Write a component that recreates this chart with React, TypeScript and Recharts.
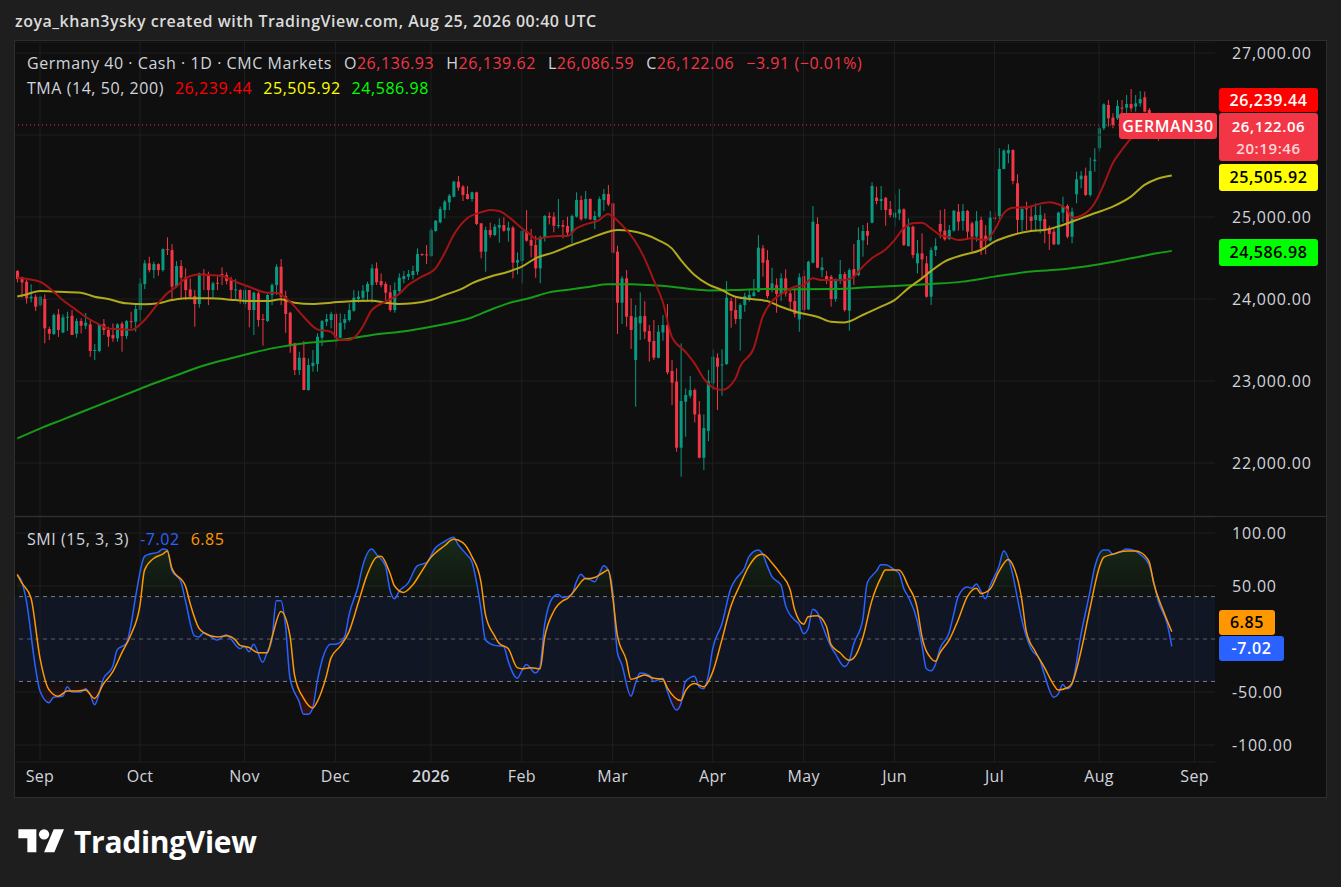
import React from 'react';
import {
  ComposedChart,
  Bar,
  Line,
  Area,
  XAxis,
  YAxis,
  CartesianGrid,
  ReferenceLine,
  ReferenceArea,
} from 'recharts';

// daily candles, Aug 25 2025 -> Aug 25 2026 (bar index = position)
const OPEN = [
  24341, 24264, 24211, 24008, 24028, 23926, 24000, 23634, 23573, 23813,
  23593, 23772, 23796, 23577, 23731, 23674, 23691, 23374, 23366, 23695,
  23622, 23561, 23520, 23699, 23548, 23731, 23723, 23866, 24182, 24435,
  24353, 24426, 24353, 24609, 24597, 24150, 24402, 24264, 24117, 24036,
  23939, 24313, 24300, 24109, 24199, 24304, 24292, 24231, 24109, 24109,
  23939, 24110, 23866, 24069, 23756, 23731, 24049, 24170, 24394, 24036,
  23833, 23459, 23134, 23284, 22890, 23183, 23207, 23528, 23723, 23744,
  23817, 23528, 23707, 23744, 23858, 23999, 24016, 24089, 24170, 24374,
  24219, 24183, 24081, 23866, 24097, 24243, 24272, 24292, 24333, 24548,
  24544, 24524, 24829, 24935, 25085, 25179, 25248, 25431, 25370, 25280,
  25219, 25301, 24923, 24577, 24841, 24780, 24870, 24902, 24833, 24870,
  24443, 24463, 24829, 24719, 24658, 24374, 24752, 25012, 25004, 24894,
  24902, 24890, 24809, 25004, 25207, 24984, 25219, 24963, 25004, 25207,
  25280, 25166, 24577, 23955, 24252, 23792, 23256, 23703, 23792, 23610,
  23488, 23284, 23592, 23683, 23122, 22992, 22187, 22748, 22821, 22890,
  22593, 22065, 22392, 22971, 23284, 23195, 23207, 23975, 23866, 23756,
  23927, 23988, 24036, 24089, 24618, 24475, 24130, 24170, 24061, 24252,
  24069, 23975, 23752, 24280, 23874, 24443, 24914, 24353, 24280, 24272,
  24000, 24231, 24304, 23858, 24365, 24292, 24715, 24829, 24931, 25236,
  25195, 25236, 25097, 24992, 25044, 25093, 24646, 24882, 24435, 24557,
  24435, 24028, 24597, 24915, 24834, 24732, 24834, 25065, 24951, 25073,
  24923, 24761, 24964, 24773, 24712, 24992, 25012, 25586, 25777, 25817,
  25411, 24964, 25106, 25004, 24964, 24952, 24976, 24862, 24822, 24667,
  25053, 25135, 24760, 25277, 25460, 25504, 25269, 25683, 25838, 26082,
  26366, 26212, 26204, 26333, 26333, 26378, 26346, 26386, 26460, 26305,
  26224, 26180, 26100, 26170, 26136.93,
];
const HIGH = [
  24353, 24272, 24231, 24178, 24056, 24040, 24056, 23662, 23825, 23878,
  23813, 23845, 23866, 23764, 23764, 23829, 23744, 23451, 23695, 23756,
  23662, 23703, 23703, 23723, 23744, 23845, 23926, 24252, 24475, 24516,
  24455, 24435, 24617, 24752, 24670, 24463, 24475, 24374, 24252, 24109,
  24321, 24365, 24333, 24211, 24280, 24386, 24325, 24272, 24243, 24121,
  24170, 24110, 24089, 24089, 23817, 24069, 24191, 24423, 24488, 24101,
  23845, 23467, 23357, 23488, 23276, 23378, 23581, 23744, 23817, 23845,
  23845, 23825, 23817, 23947, 24110, 24101, 24170, 24211, 24423, 24447,
  24313, 24211, 24170, 24203, 24313, 24341, 24353, 24406, 24618, 24557,
  24658, 24861, 24963, 25126, 25207, 25280, 25443, 25500, 25390, 25378,
  25309, 25309, 24923, 24882, 24931, 24914, 24984, 24996, 24943, 24890,
  24569, 24841, 25085, 24853, 24772, 24772, 25024, 25057, 25057, 25219,
  24963, 25004, 25032, 25301, 25260, 25317, 25227, 25073, 25248, 25341,
  25390, 25166, 24650, 24280, 24353, 24008, 23927, 24081, 23975, 23683,
  23744, 23683, 23805, 23939, 23256, 23154, 23459, 22910, 23061, 22910,
  22756, 22593, 23134, 23386, 23337, 23386, 24219, 24016, 24028, 23947,
  24077, 24122, 24243, 24780, 24658, 24597, 24382, 24252, 24313, 24362,
  24130, 24110, 24313, 24353, 24467, 25134, 24996, 24508, 24341, 24292,
  24252, 24475, 24333, 24374, 24670, 24874, 24902, 24931, 25423, 25370,
  25378, 25240, 25195, 25280, 25341, 25105, 24984, 24894, 24719, 24801,
  24524, 24630, 24740, 25086, 25098, 24903, 25086, 25159, 25159, 25086,
  24943, 25073, 25004, 24903, 25073, 25065, 25838, 25825, 25886, 25825,
  25521, 25126, 25187, 25126, 25167, 25139, 25045, 24895, 24862, 25065,
  25248, 25155, 25114, 25553, 25561, 25602, 25724, 25838, 26102, 26386,
  26427, 26264, 26427, 26427, 26488, 26561, 26488, 26537, 26529, 26330,
  26260, 26200, 26210, 26190, 26139.62,
];
const LOW = [
  24203, 24016, 23943, 23959, 23853, 23906, 23459, 23500, 23561, 23536,
  23581, 23609, 23561, 23528, 23581, 23634, 23296, 23256, 23350, 23561,
  23418, 23479, 23479, 23357, 23512, 23642, 23601, 23723, 24121, 24325,
  24252, 24284, 24333, 24536, 24000, 24138, 24000, 23987, 24008, 23662,
  23894, 24109, 23926, 24008, 24109, 24170, 24178, 24000, 23987, 23943,
  23894, 23654, 23561, 23662, 23431, 23723, 23926, 24049, 23926, 23589,
  23345, 23073, 23073, 22890, 22882, 23114, 23114, 23427, 23670, 23642,
  23406, 23520, 23630, 23723, 23845, 23955, 23987, 23967, 23955, 24170,
  24142, 23967, 23845, 23833, 24061, 24191, 24231, 24239, 24292, 24524,
  24426, 24516, 24821, 24923, 24983, 25085, 25240, 25321, 25195, 25215,
  25187, 24902, 24496, 24333, 24748, 24768, 24687, 24821, 24699, 24252,
  24301, 24191, 24699, 24508, 24260, 24191, 24699, 24910, 24813, 24862,
  24740, 24780, 24679, 24992, 24955, 24972, 24963, 24853, 24992, 25073,
  25134, 24557, 23573, 23695, 23662, 23390, 22687, 23500, 23512, 23236,
  23256, 23276, 23492, 23081, 22707, 22138, 21833, 22321, 22789, 22496,
  22057, 21914, 22266, 22890, 22646, 22821, 23195, 23650, 23695, 23370,
  23845, 23967, 24028, 24081, 24272, 24008, 24081, 23833, 23975, 24028,
  23874, 23776, 23601, 23833, 23866, 24435, 24374, 24264, 24183, 23906,
  23967, 24183, 23845, 23614, 24170, 24280, 24516, 24658, 24923, 25154,
  25085, 24894, 24996, 24882, 24963, 24646, 24638, 24496, 24313, 24252,
  24016, 23927, 24524, 24740, 24712, 24720, 24822, 24834, 24834, 24720,
  24578, 24700, 24537, 24545, 24700, 24943, 24943, 25582, 25655, 25399,
  24801, 24822, 24842, 24822, 24822, 24801, 24679, 24598, 24659, 24659,
  24935, 24740, 24679, 25167, 25350, 25257, 25249, 25553, 25797, 26061,
  26102, 26082, 26183, 26236, 26264, 26285, 26285, 26346, 26277, 26180,
  26150, 25930, 26060, 26090, 26086.59,
];
const CLOSE = [
  24243, 24203, 24008, 24028, 23906, 24028, 23642, 23577, 23805, 23622,
  23776, 23784, 23561, 23731, 23674, 23711, 23366, 23378, 23683, 23622,
  23540, 23520, 23691, 23548, 23731, 23719, 23878, 24191, 24435, 24353,
  24426, 24353, 24609, 24597, 24150, 24402, 24260, 24109, 24028, 23939,
  24313, 24300, 24109, 24191, 24187, 24292, 24219, 24109, 24117, 24000,
  24109, 23866, 24077, 23744, 23744, 24049, 24170, 24394, 24028, 23817,
  23431, 23134, 23284, 22890, 23195, 23223, 23540, 23731, 23756, 23817,
  23528, 23711, 23756, 23866, 24016, 24028, 24101, 24183, 24374, 24203,
  24170, 24077, 23866, 24110, 24260, 24280, 24304, 24341, 24548, 24536,
  24532, 24841, 24955, 25097, 25187, 25260, 25431, 25358, 25268, 25219,
  25301, 24915, 24577, 24841, 24780, 24882, 24902, 24833, 24870, 24443,
  24475, 24829, 24711, 24650, 24374, 24752, 25012, 24992, 24894, 24902,
  24882, 24809, 25012, 25207, 24972, 25219, 24972, 25012, 25219, 25280,
  25154, 24565, 23955, 24252, 23784, 23622, 23776, 23792, 23601, 23479,
  23284, 23601, 23683, 23106, 22980, 22187, 22756, 22829, 22890, 22593,
  22065, 22427, 23002, 23297, 23175, 23203, 24016, 23858, 23756, 23927,
  24036, 24049, 24081, 24626, 24443, 24036, 24191, 24061, 24252, 24069,
  23967, 23817, 24264, 23866, 24455, 24943, 24382, 24386, 24244, 24000,
  24231, 24304, 23866, 24353, 24280, 24719, 24829, 24772, 25378, 25195,
  25219, 25085, 25024, 25053, 25093, 24658, 24882, 24536, 24557, 24483,
  24028, 24597, 24646, 24822, 24728, 24842, 25077, 24943, 25073, 24822,
  24761, 24951, 24618, 24712, 24992, 24976, 25586, 25809, 25817, 25439,
  24964, 25098, 25094, 24952, 25024, 25024, 24842, 24793, 24667, 25053,
  25126, 24760, 25065, 25460, 25504, 25269, 25561, 25700, 26082, 26374,
  26204, 26122, 26354, 26325, 26378, 26325, 26386, 26439, 26285, 26224,
  26180, 26100, 26170, 26126, 26122.06,
];

// moving averages: [bar index, value]
const TMA14: [number, number][] = [
  [0, 24260], [5, 24211], [8, 24089], [10, 23987], [13, 23865], [15, 23784], [18, 23691],
  [20, 23642], [23, 23630], [25, 23622], [28, 23743], [31, 23947], [33, 24069], [35, 24150],
  [37, 24252], [40, 24300], [42, 24292], [45, 24280], [48, 24211], [51, 24150], [55, 24077],
  [57, 24077], [60, 23967], [63, 23784], [66, 23630], [69, 23601], [71, 23500], [73, 23500],
  [75, 23581], [76, 23662], [78, 23866], [81, 23967], [84, 24061], [86, 24170], [89, 24272],
  [92, 24374], [94, 24557], [96, 24780], [99, 24984], [102, 25057], [104, 25085], [106, 25073],
  [108, 25004], [111, 24862], [113, 24780], [114, 24732], [117, 24760], [119, 24768],
  [121, 24768], [123, 24862], [125, 24910], [128, 24963], [130, 25036], [131, 25004],
  [133, 24902], [136, 24699], [138, 24496], [140, 24232], [142, 23967], [144, 23540],
  [147, 23357], [149, 23215], [151, 23032], [153, 22923], [155, 22890], [158, 23032],
  [159, 23175], [162, 23398], [164, 23784], [166, 23967], [169, 24089], [171, 24150],
  [173, 24170], [175, 24252], [177, 24232], [180, 24232], [182, 24232], [184, 24272],
  [186, 24394], [188, 24496], [191, 24605], [193, 24719], [195, 24862], [197, 24923],
  [199, 24931], [201, 24862], [203, 24780], [205, 24755], [207, 24720], [210, 24740],
  [213, 24720], [215, 24842], [217, 25045], [219, 25114], [222, 25118], [224, 25147],
  [227, 25179], [229, 25155], [231, 25086], [232, 24992], [235, 25045], [237, 25167],
  [239, 25390], [241, 25655], [243, 25817], [245, 25960], [247, 26102], [249, 26180],
  [251, 26220], [254, 26239.44],
];
const TMA50: [number, number][] = [
  [0, 24030], [2, 24056], [5, 24097], [9, 24089], [14, 24077], [17, 24028], [20, 24000],
  [24, 23947], [28, 23935], [31, 23947], [34, 23987], [37, 24008], [42, 24008], [48, 23987],
  [51, 23975], [55, 23975], [58, 23996], [61, 23955], [65, 23939], [69, 23955], [74, 23975],
  [78, 23979], [81, 23955], [84, 23939], [87, 23947], [91, 23987], [94, 24049], [98, 24130],
  [100, 24190], [104, 24272], [108, 24333], [111, 24394], [114, 24496], [118, 24569],
  [122, 24658], [125, 24719], [129, 24801], [132, 24841], [135, 24829], [138, 24789],
  [141, 24719], [144, 24618], [146, 24475], [149, 24293], [152, 24179], [155, 24110],
  [158, 24028], [162, 23996], [165, 23975], [168, 23906], [172, 23833], [176, 23784],
  [179, 23723], [182, 23715], [186, 23805], [190, 23906], [193, 23987], [196, 24130],
  [199, 24252], [201, 24340], [204, 24456], [208, 24537], [212, 24598], [215, 24700],
  [219, 24781], [223, 24830], [226, 24842], [230, 24903], [234, 24984], [237, 25045],
  [241, 25126], [245, 25248], [248, 25391], [251, 25470], [254, 25505.92],
];
const TMA200: [number, number][] = [
  [0, 22300], [5, 22420], [10, 22530], [15, 22640], [20, 22750], [25, 22860], [30, 22970],
  [35, 23070], [40, 23170], [45, 23250], [49, 23305], [56, 23398], [64, 23467], [71, 23500],
  [78, 23561], [86, 23614], [93, 23683], [100, 23775], [104, 23866], [108, 23947],
  [113, 24016], [117, 24081], [122, 24118], [126, 24150], [130, 24179], [135, 24179],
  [139, 24170], [144, 24150], [148, 24122], [152, 24105], [158, 24110], [165, 24122],
  [172, 24118], [180, 24122], [187, 24142], [194, 24162], [201, 24183], [208, 24212],
  [215, 24273], [223, 24334], [230, 24362], [237, 24415], [245, 24496], [251, 24560],
  [254, 24586.98],
];

// SMI (15, 3, 3): main line and its signal, [bar index, value]
const SMI_LINE: [number, number][] = [
  [0, 60], [1, 54], [2, 36], [4, -27], [5, -49], [7, -60], [8, -55], [10, -54], [11, -45],
  [12, -50], [14, -50], [15, -47], [16, -52], [17, -62], [19, -37], [21, -26], [22, -10],
  [24, -4], [25, 13], [26, 39], [28, 78], [29, 80], [31, 82], [32, 85], [33, 84], [34, 65],
  [36, 54], [37, 36], [39, 3], [40, 2], [41, 6], [43, 1], [44, -1], [46, 4], [47, 0],
  [49, -9], [50, -7], [51, -12], [52, -5], [54, -22], [55, -12], [56, -1], [57, 36],
  [58, 36], [59, 13], [60, -37], [62, -59], [63, -71], [64, -71], [65, -65], [66, -40],
  [67, -21], [69, -5], [70, -5], [72, 2], [73, 23], [75, 50], [76, 69], [78, 85], [79, 80],
  [81, 69], [82, 46], [83, 38], [84, 45], [86, 53], [88, 69], [90, 72], [92, 86], [94, 92],
  [96, 96], [97, 89], [99, 79], [100, 73], [102, 29], [103, -1], [105, -6], [107, -7],
  [108, -21], [110, -37], [111, -30], [112, -24], [114, -32], [115, -26], [116, 13],
  [118, 40], [119, 42], [120, 39], [122, 42], [123, 54], [124, 61], [125, 57], [126, 56],
  [127, 54], [128, 61], [129, 69], [130, 65], [131, 45], [132, -12], [133, -24], [135, -54],
  [136, -42], [137, -32], [139, -34], [140, -40], [142, -37], [143, -49], [145, -67],
  [146, -61], [147, -40], [149, -35], [150, -45], [151, -47], [152, -35], [153, -9],
  [155, 14], [157, 48], [158, 56], [160, 67], [161, 78], [163, 84], [164, 80], [165, 69],
  [166, 59], [168, 51], [169, 32], [171, 18], [172, 14], [173, 5], [174, 10], [175, 28],
  [176, 25], [177, 14], [179, -7], [180, -14], [182, -26], [183, -21], [184, -5], [186, 18],
  [187, 53], [189, 64], [190, 70], [191, 70], [193, 65], [194, 62], [195, 48], [196, 40],
  [198, 17], [199, -5], [200, -28], [201, -30], [202, -24], [203, -9], [205, 6], [206, 23],
  [207, 40], [209, 49], [210, 48], [211, 52], [212, 45], [213, 38], [214, 50], [216, 69],
  [217, 83], [219, 61], [220, 39], [221, 18], [223, -9], [225, -20], [226, -34], [228, -55],
  [229, -52], [230, -43], [231, -47], [232, -43], [234, 4], [236, 45], [237, 67], [239, 84],
  [240, 84], [241, 80], [243, 83], [244, 85], [246, 83], [247, 80], [249, 70], [250, 54],
  [251, 36], [253, 14], [254, -7.02],
];
const SMI_SIGNAL: [number, number][] = [
  [0, 61], [1, 53], [3, 39], [5, -18], [7, -48], [9, -54], [11, -49], [13, -49], [15, -48],
  [17, -56], [19, -42], [21, -31], [23, -13], [25, 4], [27, 32], [28, 65], [30, 76],
  [32, 80], [33, 83], [34, 67], [37, 50], [38, 34], [40, 10], [41, 6], [44, 2], [46, 3],
  [48, -1], [49, -6], [51, -8], [53, -13], [55, -13], [56, 1], [58, 26], [60, 3], [61, -34],
  [63, -56], [65, -65], [66, -59], [68, -35], [69, -18], [71, -7], [73, 7], [75, 34],
  [77, 61], [79, 77], [80, 78], [82, 62], [83, 50], [85, 44], [87, 51], [89, 64], [91, 77],
  [94, 88], [96, 94], [98, 91], [100, 78], [102, 54], [103, 23], [105, 3], [106, -4],
  [108, -9], [110, -27], [111, -28], [113, -27], [115, -28], [116, 1], [118, 26], [120, 36],
  [121, 38], [123, 48], [125, 57], [126, 57], [127, 58], [129, 63], [130, 65], [131, 40],
  [132, 4], [134, -20], [135, -38], [136, -37], [138, -34], [140, -37], [142, -38],
  [143, -46], [146, -58], [147, -49], [149, -42], [151, -45], [153, -31], [155, -1],
  [157, 31], [159, 51], [161, 69], [163, 79], [164, 80], [166, 72], [168, 61], [170, 47],
  [171, 28], [173, 14], [174, 21], [176, 22], [178, 12], [179, -5], [181, -13], [183, -20],
  [184, -18], [186, 1], [188, 36], [190, 58], [191, 65], [194, 65], [196, 50], [198, 29],
  [199, 3], [201, -18], [202, -21], [203, -13], [205, -1], [207, 18], [209, 40], [211, 48],
  [212, 43], [214, 47], [216, 64], [218, 75], [219, 70], [221, 37], [222, 7], [224, -12],
  [226, -27], [228, -43], [229, -48], [231, -46], [232, -42], [234, -12], [236, 29],
  [238, 67], [239, 77], [241, 80], [244, 83], [246, 83], [247, 82], [249, 73], [250, 53],
  [252, 28], [254, 6.85],
];

const MONTH_TICKS = [5, 27, 50, 70, 91, 111, 131, 153, 173, 193, 215, 238, 259];
const MONTH_LABELS = ['Sep', 'Oct', 'Nov', 'Dec', '2026', 'Feb', 'Mar', 'Apr', 'May', 'Jun', 'Jul', 'Aug', 'Sep'];
// 26,000 sits under the price badges, so only its grid line is drawn
const PRICE_TICKS = [22000, 23000, 24000, 25000, 27000];
const HIDDEN_PRICE_GRID = 26000;
const SMI_TICKS = [-100, -50, 50, 100];
const SLOTS = 264;

const UP = '#089981';
const DOWN = '#f23645';
const GRID = '#1f1f1f';
const TEXT = '#d1d4dc';
const FONT = "'Open Sans', sans-serif";

const lookup = (pts: [number, number][]) => new Map(pts.map(([i, v]) => [i, v]));
const m14 = lookup(TMA14);
const m50 = lookup(TMA50);
const m200 = lookup(TMA200);
const smiMap = lookup(SMI_LINE);
const sigMap = lookup(SMI_SIGNAL);

const rows = Array.from({ length: SLOTS }, (_, i) => {
  const smi = smiMap.get(i) ?? null;
  const row: any = {
    i,
    ma14: m14.get(i) ?? null,
    ma50: m50.get(i) ?? null,
    ma200: m200.get(i) ?? null,
    smi,
    signal: sigMap.get(i) ?? null,
    smiUp: smi == null ? null : Math.max(smi, 40),
    smiDown: smi == null ? null : Math.min(smi, -40),
  };
  if (i < CLOSE.length) {
    row.open = OPEN[i];
    row.high = HIGH[i];
    row.low = LOW[i];
    row.close = CLOSE[i];
    row.range = [LOW[i], HIGH[i]];
  }
  return row;
});

const fmt = (v: number) =>
  v.toLocaleString('en-US', { minimumFractionDigits: 2, maximumFractionDigits: 2 });

const Candle = (props: any) => {
  const { x, y, width, height, payload } = props;
  if (!payload || payload.open == null) return null;
  const { open, close, high, low } = payload;
  const h = Math.abs(height);
  const top = Math.min(y, y + height);
  const span = high - low || 1;
  const py = (v: number) => top + ((high - v) / span) * h;
  const color = close >= open ? UP : DOWN;
  const cx = x + width / 2;
  const bTop = py(Math.max(open, close));
  const bBot = py(Math.min(open, close));
  return (
    <g>
      <line x1={cx} x2={cx} y1={top} y2={top + h} stroke={color} strokeWidth={1} />
      <rect x={x} y={bTop} width={width} height={Math.max(1, bBot - bTop)} fill={color} />
    </g>
  );
};

const TimeTick = (p: any) => {
  const k = MONTH_TICKS.indexOf(p.payload.value);
  const label = MONTH_LABELS[k] ?? '';
  return (
    <text
      x={p.x}
      y={p.y}
      dy={12}
      textAnchor="middle"
      fill={TEXT}
      fontSize={16}
      fontFamily={FONT}
      fontWeight={label === '2026' ? 600 : 400}
      style={{ letterSpacing: 0.3 }}
    >
      {label}
    </text>
  );
};

const axisTick = { fill: TEXT, fontSize: 16, fontFamily: FONT, textAnchor: 'start', style: { letterSpacing: 0.8 } };

const Badge = ({ left = 1219, top, width = 99, height, bg, color, size = 16, lh = 21, children }: any) => (
  <div
    style={{
      position: 'absolute',
      left,
      top,
      width,
      height,
      background: bg,
      color,
      borderRadius: 3,
      display: 'flex',
      flexDirection: 'column',
      alignItems: 'center',
      justifyContent: 'center',
      fontSize: size,
      fontWeight: 600,
      letterSpacing: 0.6,
      lineHeight: `${lh}px`,
    }}
  >
    {children}
  </div>
);

const legendText = { position: 'absolute' as const, left: 27, fontSize: 16, color: TEXT, whiteSpace: 'nowrap' as const, letterSpacing: 0.55 };

export default function App() {
  const verticalGrid = MONTH_TICKS.map((t) => (
    <ReferenceLine key={t} x={t} stroke={GRID} strokeWidth={1} />
  ));

  return (
    <div
      style={{
        position: 'absolute',
        left: 0,
        top: 0,
        width: 1341,
        height: 887,
        background: '#1e1e1e',
        fontFamily: FONT,
        overflow: 'hidden',
      }}
    >
      <div style={{ position: 'absolute', left: 15, top: 10, fontSize: 16, fontWeight: 600, color: '#dbdbdb', letterSpacing: 0.5 }}>
        zoya_khan3ysky created with TradingView.com, Aug 25, 2026 00:40 UTC
      </div>

      <div
        style={{
          position: 'absolute',
          left: 14,
          top: 40,
          width: 1313,
          height: 758,
          background: '#0f0f0f',
          border: '1px solid #2e2e2e',
          boxSizing: 'border-box',
        }}
      />

      {/* price pane */}
      <div style={{ position: 'absolute', left: 15, top: 42 }}>
        <ComposedChart width={1311} height={474} data={rows} margin={{ top: 0, right: 0, bottom: 0, left: 0 }}>
          <CartesianGrid stroke={GRID} vertical={false} />
          <ReferenceLine y={HIDDEN_PRICE_GRID} stroke={GRID} />
          {verticalGrid}
          <XAxis dataKey="i" type="number" domain={[-0.5, SLOTS - 0.5]} allowDataOverflow hide />
          <YAxis
            orientation="right"
            width={111}
            domain={[21354, 27134]}
            allowDataOverflow
            ticks={PRICE_TICKS}
            tickFormatter={fmt}
            axisLine={false}
            tickLine={false}
            tickMargin={11}
            tick={axisTick}
          />
          <Line dataKey="ma200" type="monotone" stroke="#169c16" strokeWidth={2} dot={false} connectNulls isAnimationActive={false} />
          <Line dataKey="ma50" type="monotone" stroke="#b0aa1c" strokeWidth={2} dot={false} connectNulls isAnimationActive={false} />
          <Line dataKey="ma14" type="monotone" stroke="#a31414" strokeWidth={2} dot={false} connectNulls isAnimationActive={false} />
          <Bar dataKey="range" barSize={3} shape={<Candle />} isAnimationActive={false} />
          <ReferenceLine y={26122.06} stroke={DOWN} strokeDasharray="1 3" />
        </ComposedChart>
      </div>

      <div style={{ position: 'absolute', left: 15, top: 516, width: 1311, height: 1, background: '#2e2e2e' }} />

      {/* SMI pane */}
      <div style={{ position: 'absolute', left: 15, top: 517 }}>
        <ComposedChart width={1311} height={280} data={rows} margin={{ top: 0, right: 0, bottom: 0, left: 0 }}>
          <defs>
            <linearGradient id="smiUpFill" x1="0" y1="0" x2="0" y2="1">
              <stop offset="0%" stopColor="#2e7d32" stopOpacity={0.45} />
              <stop offset="100%" stopColor="#2e7d32" stopOpacity={0.05} />
            </linearGradient>
            <linearGradient id="smiDownFill" x1="0" y1="0" x2="0" y2="1">
              <stop offset="0%" stopColor="#b71c1c" stopOpacity={0.05} />
              <stop offset="100%" stopColor="#b71c1c" stopOpacity={0.4} />
            </linearGradient>
          </defs>
          <CartesianGrid stroke={GRID} vertical={false} />
          {verticalGrid}
          <ReferenceArea y1={-40} y2={40} fill="#2962ff" fillOpacity={0.09} stroke="none" />
          <XAxis
            dataKey="i"
            type="number"
            domain={[-0.5, SLOTS - 0.5]}
            allowDataOverflow
            ticks={MONTH_TICKS}
            interval={0}
            height={35}
            axisLine={false}
            tickLine={false}
            tick={<TimeTick />}
          />
          <YAxis
            orientation="right"
            width={111}
            domain={[-116, 115.1]}
            allowDataOverflow
            ticks={SMI_TICKS}
            tickFormatter={fmt}
            axisLine={false}
            tickLine={false}
            tickMargin={11}
            tick={axisTick}
          />
          <ReferenceLine y={40} stroke="#787b86" strokeDasharray="4 4" />
          <ReferenceLine y={0} stroke="#5d606b" strokeDasharray="4 4" />
          <ReferenceLine y={-40} stroke="#787b86" strokeDasharray="4 4" />
          <Area dataKey="smiUp" type="monotone" baseValue={40} stroke="none" fill="url(#smiUpFill)" connectNulls isAnimationActive={false} />
          <Area dataKey="smiDown" type="monotone" baseValue={-40} stroke="none" fill="url(#smiDownFill)" connectNulls isAnimationActive={false} />
          <Line dataKey="smi" type="monotone" stroke="#2962ff" strokeWidth={1.5} dot={false} connectNulls isAnimationActive={false} />
          <Line dataKey="signal" type="monotone" stroke="#ff9800" strokeWidth={1.5} dot={false} connectNulls isAnimationActive={false} />
        </ComposedChart>
      </div>

      {/* legends */}
      <div style={{ ...legendText, top: 52 }}>
        Germany 40 · Cash · 1D · CMC Markets
        <span style={{ marginLeft: 12 }}>O</span><span style={{ color: DOWN }}>26,136.93</span>
        <span style={{ marginLeft: 12 }}>H</span><span style={{ color: DOWN }}>26,139.62</span>
        <span style={{ marginLeft: 12 }}>L</span><span style={{ color: DOWN }}>26,086.59</span>
        <span style={{ marginLeft: 12 }}>C</span><span style={{ color: DOWN }}>26,122.06</span>
        <span style={{ marginLeft: 12, color: DOWN }}>−3.91 (−0.01%)</span>
      </div>
      <div style={{ ...legendText, top: 77 }}>
        TMA (14, 50, 200)
        <span style={{ marginLeft: 11, color: '#ff0000' }}>26,239.44</span>
        <span style={{ marginLeft: 11, color: '#ffff00' }}>25,505.92</span>
        <span style={{ marginLeft: 11, color: '#00ff00' }}>24,586.98</span>
      </div>
      <div style={{ ...legendText, top: 528 }}>
        SMI (15, 3, 3)
        <span style={{ marginLeft: 11, color: '#2962ff' }}>-7.02</span>
        <span style={{ marginLeft: 11, color: '#ff9800' }}>6.85</span>
      </div>

      {/* price scale badges */}
      <Badge top={88} height={24} bg="#ff0000" color="#ffffff">26,239.44</Badge>
      <Badge top={113} height={48} bg={DOWN} color="#ffffff" size={15} lh={22}>
        <div>26,122.06</div>
        <div style={{ color: 'rgba(255,255,255,0.8)' }}>20:19:46</div>
      </Badge>
      <Badge left={1119} top={113} width={98} height={26} bg={DOWN} color="#ffffff" size={16}>GERMAN30</Badge>
      <Badge top={164} height={27} bg="#ffff00" color="#000000">25,505.92</Badge>
      <Badge top={239} height={27} bg="#00ff00" color="#000000">24,586.98</Badge>
      <Badge top={610} width={56} height={25} bg="#ff9800" color="#000000">6.85</Badge>
      <Badge top={636} width={65} height={25} bg="#2962ff" color="#ffffff">-7.02</Badge>

      {/* watermark */}
      <svg style={{ position: 'absolute', left: 18, top: 824 }} width={47} height={36} viewBox="0 0 36 28">
        <path d="M14 22H7V11H0V4h14v18z" fill="#ffffff" />
        <circle cx={20} cy={8} r={4} fill="#ffffff" />
        <path d="M28 22h-8l7.5-18h8L28 22z" fill="#ffffff" />
      </svg>
      <div style={{ position: 'absolute', left: 74, top: 821, fontSize: 30, fontWeight: 700, color: '#ffffff', letterSpacing: -0.3 }}>
        TradingView
      </div>
    </div>
  );
}
